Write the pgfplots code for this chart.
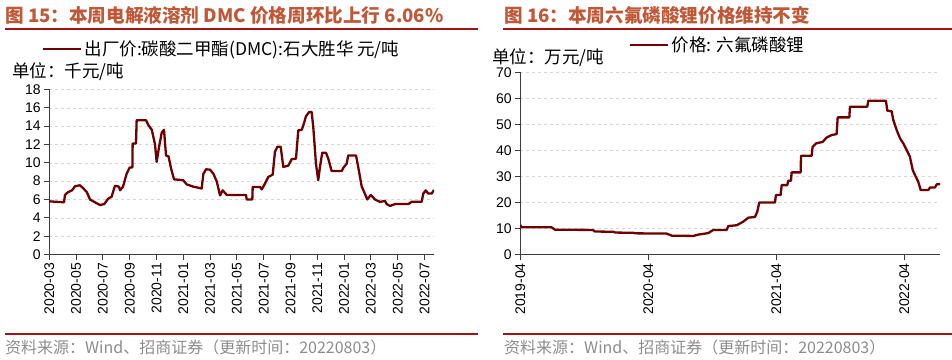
\documentclass[border=0pt]{standalone}
\usepackage{fontspec}
\setmainfont{Liberation Sans}
\newfontfamily\cjk{Noto Sans CJK SC}
\usepackage{pgfplots}
\pgfplotsset{compat=1.18}
\definecolor{titlecol}{RGB}{192,88,56}
\definecolor{rulecol}{RGB}{160,20,20}
\definecolor{linecol}{RGB}{112,0,0}
\definecolor{axcol}{RGB}{60,60,60}
\definecolor{gridcol}{RGB}{215,215,215}
\definecolor{srccol}{RGB}{140,140,140}
\pgfplotsset{
  mystyle/.style={
    scale only axis,
    anchor=south west,
    axis lines=left,
    axis line style={-, axcol, line width=1pt},
    tick style={axcol, line width=0.9pt},
    tick align=outside,
    major tick length=5pt,
    ymajorgrids,
    grid style={dashed, gridcol, line width=0.6pt},
    /pgf/number format/assume math mode=true,
    tick label style={font=\fontsize{14}{14}\selectfont},
    xticklabel style={rotate=90, anchor=east},
    legend cell align=left,
    legend image code/.code={\draw[#1, line width=2.4pt] (0pt,0pt) -- (38pt,0pt);},
  }
}
\begin{document}
\begin{tikzpicture}[x=1pt,y=1pt]
\path[use as bounding box] (0,0) rectangle (952,359);
% titles
\node[anchor=west, inner sep=0, text=titlecol, font=\cjk\bfseries\fontsize{18.6}{18.6}\selectfont] at (5,344) {图 15：本周电解液溶剂 DMC 价格周环比上行 6.06\%};
\node[anchor=west, inner sep=0, text=titlecol, font=\cjk\bfseries\fontsize{18.6}{18.6}\selectfont] at (504,344) {图 16：本周六氟磷酸锂价格维持不变};
\draw[rulecol, line width=1.5pt] (5,330) -- (478,330);
\draw[rulecol, line width=1.5pt] (503,330) -- (952,330);
\draw[rulecol, line width=1.5pt] (5,25) -- (478,25);
\draw[rulecol, line width=1.5pt] (503,25) -- (952,25);
\node[anchor=west, inner sep=0, text=srccol, font=\cjk\fontsize{16}{16}\selectfont] at (5,12) {资料来源：Wind、招商证券（更新时间：20220803）};
\node[anchor=west, inner sep=0, text=srccol, font=\cjk\fontsize{16}{16}\selectfont] at (504,12) {资料来源：Wind、招商证券（更新时间：20220803）};
\node[anchor=west, inner sep=0, font=\cjk\fontsize{17.5}{17.5}\selectfont] at (12,287) {单位：千元/吨};
\node[anchor=west, inner sep=0, font=\cjk\fontsize{17.5}{17.5}\selectfont] at (492,301) {单位：万元/吨};

\begin{axis}[mystyle,
  at={(49.3pt,104.5pt)}, width=384.7pt, height=165pt,
  xmin=0, xmax=28.71, ymin=0, ymax=18,
  ytick={0,2,...,18},
  xtick={0,2,...,28},
  xticklabels={2020-03,2020-05,2020-07,2020-09,2020-11,2021-01,2021-03,2021-05,2021-07,2021-09,2021-11,2022-01,2022-03,2022-05,2022-07},
  legend style={draw=none, fill=none, at={(-0.019,1.245)}, anchor=west, inner sep=0pt, font=\cjk\fontsize{17.5}{17.5}\selectfont},
]
\addplot[linecol, line width=2.3pt, line join=round] coordinates {
(0,5.8) (0.5,5.75) (1.1,5.7) (1.17,6.5) (1.4,6.8) (1.7,7.0) (1.92,7.45) (2.29,7.55) (2.55,7.2) (2.8,6.8) (3.04,6.0) (3.4,5.7) (3.78,5.4) (4.1,5.5) (4.4,6.1) (4.65,6.3) (4.9,7.5) (5.2,7.4) (5.28,7.0) (5.5,7.4) (5.77,8.8) (6.0,9.5) (6.2,9.5) (6.22,12.1) (6.47,12.1) (6.52,14.65) (7.22,14.65) (7.4,14.1) (7.65,13.6) (7.89,12.0) (8.01,10.1) (8.2,11.8) (8.39,13.3) (8.56,13.6) (8.71,10.8) (8.9,10.7) (9.1,9.3) (9.31,8.2) (10.0,8.1) (10.25,7.65) (10.75,7.4) (11.37,7.2) (11.5,8.8) (11.7,9.3) (12.0,9.25) (12.25,8.8) (12.5,7.95) (12.74,6.45) (12.94,7.0) (13.24,6.5) (14.68,6.5) (14.73,6.0) (15.15,6.0) (15.18,7.37) (15.72,7.37) (15.85,7.1) (16.1,7.75) (16.34,8.46) (16.67,8.7) (16.84,11.2) (17.02,11.75) (17.27,11.75) (17.46,9.55) (17.84,9.7) (18.09,10.4) (18.41,10.45) (18.58,13.55) (18.84,13.6) (18.96,14.1) (19.16,15.1) (19.4,15.55) (19.58,15.55) (19.7,13.9) (19.9,9.9) (20.07,8.1) (20.2,9.55) (20.37,11.1) (20.65,11.1) (20.82,10.45) (21.07,9.1) (21.82,9.1) (21.94,9.45) (22.19,9.9) (22.31,10.8) (22.89,10.8) (23.06,9.5) (23.31,7.45) (23.56,6.6) (23.73,6.0) (23.99,6.5) (24.31,6.0) (24.68,5.74) (25.05,5.85) (25.18,5.5) (25.43,5.3) (25.8,5.5) (26.79,5.5) (27.04,5.75) (27.79,5.75) (27.91,6.65) (28.09,7.0) (28.28,6.65) (28.54,6.65) (28.71,7.05)
};
\addlegendentry{出厂价:碳酸二甲酯(DMC):石大胜华\ 元/吨}
\end{axis}

\begin{axis}[mystyle,
  at={(520.3pt,104.3pt)}, width=419.7pt, height=182.4pt,
  xmin=0, xmax=39.34, ymin=0, ymax=70,
  ytick={0,10,...,70},
  xtick={0,12,24,36},
  xticklabels={2019-04,2020-04,2021-04,2022-04},
  legend style={draw=none, fill=none, at={(0.259,1.15)}, anchor=west, inner sep=0pt, font=\cjk\fontsize{17.5}{17.5}\selectfont},
]
\addplot[linecol, line width=2.3pt, line join=round] coordinates {
(0,11.4) (0.13,10.5) (2.94,10.5) (3.25,9.6) (6.78,9.5) (7.0,8.9) (8.72,8.8) (8.9,8.5) (10.59,8.4) (10.8,8.2) (13.72,8.1) (14.2,7.3) (16.22,7.2) (16.68,7.7) (17.62,8.3) (18.09,9.5) (19.34,9.5) (19.5,11.0) (20.28,11.3) (20.9,12.7) (21.37,14.2) (22.0,14.5) (22.21,16.5) (22.4,20.0) (23.87,20.0) (23.96,22.9) (24.4,22.9) (24.5,26.7) (25.02,26.7) (25.12,28.4) (25.37,28.4) (25.43,31.6) (26.28,31.6) (26.31,38.0) (27.31,38.0) (27.4,41.4) (27.71,42.7) (28.34,43.3) (28.72,45.0) (29.18,45.9) (29.65,46.3) (29.75,52.7) (30.84,52.7) (30.9,56.8) (32.52,56.8) (32.62,59.1) (34.27,59.1) (34.4,55.3) (34.81,55.0) (34.96,51.7) (35.28,47.8) (35.59,44.7) (35.9,42.7) (36.21,40.2) (36.52,37.6) (36.78,32.5) (36.99,30.6) (37.3,28.0) (37.53,24.8) (38.24,24.8) (38.4,25.8) (38.87,25.8) (39.03,27.0) (39.34,27.0)
};
\addlegendentry{价格: 六氟磷酸锂}
\end{axis}
\end{tikzpicture}
\end{document}
